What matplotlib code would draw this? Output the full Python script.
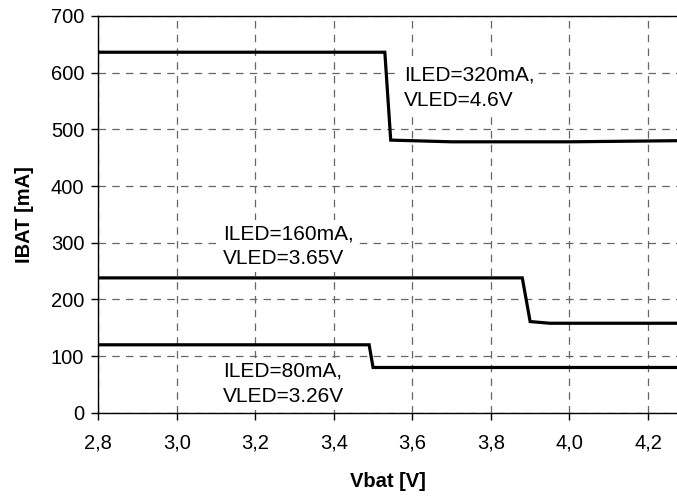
import matplotlib
matplotlib.use('Agg')
from matplotlib import pyplot as plt
from matplotlib.ticker import MultipleLocator, FuncFormatter

plt.rcParams['font.family'] = ['Liberation Sans', 'DejaVu Sans']

# curve data (Vbat [V], IBAT [mA])
vbat_320 = [2.8, 3.53, 3.545, 3.7, 4.0, 4.28]
ibat_320 = [636, 636, 481, 478, 478, 480]

vbat_160 = [2.8, 3.88, 3.90, 3.95, 4.28]
ibat_160 = [238, 238, 161, 158, 158]

vbat_80 = [2.8, 3.49, 3.50, 4.28]
ibat_80 = [120, 120, 80, 80]

labels = ['ILED=320mA,\nVLED=4.6V', 'ILED=160mA,\nVLED=3.65V', 'ILED=80mA,\nVLED=3.26V']
label_pos = [(3.578, 612), (3.118, 333), (3.118, 90)]

fig = plt.figure(figsize=(6.77, 4.98), dpi=100)
ax = fig.add_axes([0.145, 0.171, 0.855, 0.797])

for xs, ys in [(vbat_320, ibat_320), (vbat_160, ibat_160), (vbat_80, ibat_80)]:
    ax.plot(xs, ys, color='black', lw=2.3, solid_joinstyle='miter', zorder=4)

# labels sit on a white box that hides the grid behind them
for text, (x, y) in zip(labels, label_pos):
    ax.text(x, y, text, fontsize=15, va='top', ha='left', linespacing=1.42, zorder=3,
            bbox=dict(boxstyle='square,pad=0.2', facecolor='white', edgecolor='none'))

ax.set_xlim(2.8, 4.274)
ax.set_ylim(0, 700)
ax.xaxis.set_major_locator(MultipleLocator(0.2))
ax.yaxis.set_major_locator(MultipleLocator(100))
ax.xaxis.set_major_formatter(FuncFormatter(lambda v, p: f'{v:.1f}'.replace('.', ',')))
ax.tick_params(direction='out', length=5, labelsize=14.5, width=1)
ax.tick_params(axis='x', pad=10)
ax.tick_params(axis='y', pad=5)
ax.grid(True, color='#666666', linestyle=(0, (6, 5)), lw=0.9)
ax.spines['right'].set_visible(False)
for s in ['left', 'bottom', 'top']:
    ax.spines[s].set_linewidth(1.0)

ax.set_xlabel('Vbat [V]', fontsize=14.5, fontweight='bold', labelpad=14)
ax.set_ylabel('IBAT [mA]', fontsize=14.5, fontweight='bold', labelpad=12)

fig.savefig('out.png', dpi=100)
